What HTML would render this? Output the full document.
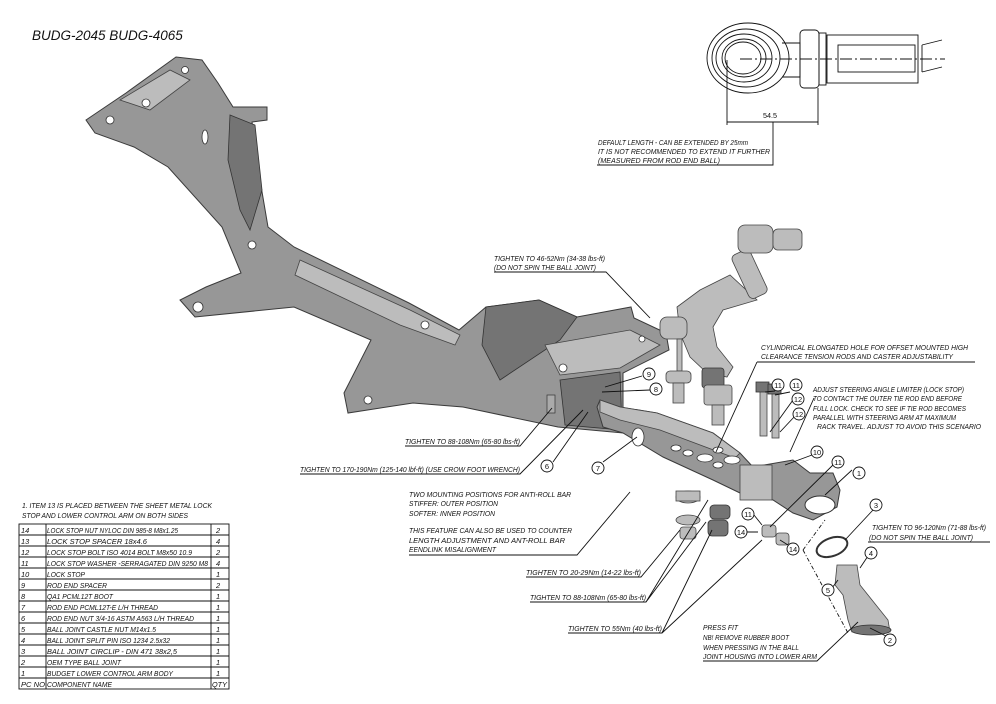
<!DOCTYPE html>
<html><head><meta charset="utf-8"><style>
html,body{margin:0;padding:0;background:#fff;}
svg{display:block;}
text{font-family:"Liberation Sans",sans-serif;font-style:italic;fill:#111;}
.t{font-size:7.4px;}
.b{font-size:7.2px;font-style:normal;}
.ln{stroke:#111;stroke-width:0.9;fill:none;}
.g{fill:#979797;stroke:#3a3a3a;stroke-width:1;}
.gl{fill:#bcbcbc;stroke:#444;stroke-width:0.8;}
.gd{fill:#747474;stroke:#333;stroke-width:0.8;}
.c{fill:#fff;stroke:#111;stroke-width:0.9;}
.n{font-size:7.5px;font-style:normal;text-anchor:middle;}
</style></head><body>
<svg width="996" height="704" viewBox="0 0 996 704" xmlns="http://www.w3.org/2000/svg">
<rect width="996" height="704" fill="#fff"/>
<text x="32" y="40" style="font-size:13.5px">BUDG-2045 BUDG-4065</text>

<!-- rod end drawing -->
<g class="ln">
<ellipse cx="748" cy="58" rx="41" ry="35"/>
<ellipse cx="746" cy="58" rx="34" ry="29"/>
<ellipse cx="744" cy="58" rx="28" ry="24"/>
<ellipse cx="744" cy="58" rx="22" ry="19"/>
<ellipse cx="743" cy="58" rx="18" ry="16"/>
<path d="M782,43 L800,43 L800,77 L782,77"/>
<rect x="800" y="30" width="19" height="58" rx="4"/>
<rect x="819" y="33" width="7" height="52"/>
<rect x="827" y="35" width="91" height="48"/>
<rect x="838" y="45" width="77" height="27"/>
<path d="M922,45 L942,40 M922,72 L942,67 M922,45 L922,72"/>
<path d="M740,59 L945,59" stroke-dasharray="12,3,2,3"/>
<path d="M727,60 L727,125 M818,88 L818,125 M727,122 L818,122"/>
<path d="M773,122 L773,165 L597,165"/>
</g>
<text x="763" y="118" class="b">54.5</text>
<text x="598" y="145" class="t" textLength="150" lengthAdjust="spacingAndGlyphs">DEFAULT LENGTH - CAN BE EXTENDED BY 25mm</text>
<text x="598" y="154" class="t" textLength="172" lengthAdjust="spacingAndGlyphs">IT IS NOT RECOMMENDED TO EXTEND IT FURTHER</text>
<text x="598" y="163" class="t" textLength="122" lengthAdjust="spacingAndGlyphs">(MEASURED FROM ROD END BALL)</text>

<!-- subframe -->
<polygon class="g" points="86,120 126,93 176,57 202,60 218,83 233,107 267,107 267,120 252,122 260,180 268,227 294,247 409,303 459,330 486,307 539,300 577,317 631,307 634,318 666,333 669,350 623,373 623,433 558,427 463,407 413,403 348,413 344,393 371,340 294,307 195,317 180,300 206,287 241,273 222,227 168,167 134,147 95,133"/>
<polygon class="gd" points="230,115 255,125 262,190 250,230 240,210 228,160"/>
<polygon class="gl" points="120,100 170,70 190,80 150,110"/>
<polygon class="gd" points="486,307 539,300 577,317 560,340 500,380 482,345"/>
<polygon class="gl" points="300,260 410,310 460,335 455,345 400,325 295,275"/>
<polygon class="gl" points="545,345 630,330 660,345 620,368 560,375"/>
<polygon class="gd" points="560,380 620,372 622,430 565,425"/>
<g fill="#fff" stroke="#333" stroke-width="0.8">
<circle cx="110" cy="120" r="4"/><circle cx="146" cy="103" r="4"/><circle cx="185" cy="70" r="3.5"/>
<circle cx="198" cy="307" r="5"/><circle cx="252" cy="245" r="4"/><circle cx="368" cy="400" r="4"/>
<circle cx="425" cy="325" r="4"/><circle cx="563" cy="368" r="4"/><circle cx="642" cy="339" r="3"/>
<ellipse cx="205" cy="137" rx="3" ry="7"/>
</g>
<rect x="547" y="395" width="8" height="18" fill="#aaa" stroke="#333" stroke-width="0.7"/>

<!-- steering arm & tie rod -->
<polygon class="gl" points="677,307 700,290 730,275 757,300 723,310 713,327 717,347 733,367 727,377 707,373 690,357 680,333"/>
<g transform="rotate(-25 750 275)"><rect x="740" y="250" width="20" height="48" rx="5" class="gl"/></g>
<rect x="738" y="225" width="35" height="28" rx="7" class="gl"/>
<rect x="773" y="229" width="29" height="21" rx="5" class="gl"/>
<rect x="660" y="317" width="27" height="22" rx="7" class="gl"/>
<rect x="677" y="339" width="5" height="32" class="gl"/>
<rect x="666" y="371" width="25" height="12" rx="4" class="gl"/>
<rect x="673" y="383" width="11" height="20" class="gl"/>
<rect x="702" y="368" width="22" height="20" rx="3" class="gd"/>
<rect x="704" y="385" width="28" height="20" rx="3" class="gl"/>
<rect x="712" y="405" width="12" height="20" class="gl"/>

<!-- lower arm -->
<polygon class="g" points="600,400 620,407 657,413 713,433 740,453 753,467 793,460 810,473 833,473 840,490 837,507 813,520 793,513 773,500 740,493 713,480 663,457 623,433 603,427 597,407"/>
<polygon class="gl" points="600,400 620,407 657,413 713,433 740,453 735,458 660,430 620,420 600,412"/>
<ellipse cx="820" cy="505" rx="15" ry="9" fill="#fff" stroke="#333"/>
<rect x="740" y="465" width="32" height="35" class="gl"/>
<g fill="#fff" stroke="#333" stroke-width="0.8">
<ellipse cx="638" cy="437" rx="6" ry="9"/>
<ellipse cx="676" cy="448" rx="5" ry="3"/><ellipse cx="688" cy="453" rx="5" ry="3"/>
<ellipse cx="718" cy="450" rx="5" ry="3"/><ellipse cx="718" cy="465" rx="5" ry="3"/>
<ellipse cx="705" cy="458" rx="8" ry="4"/><ellipse cx="732" cy="460" rx="8" ry="4"/>
</g>
<rect x="760" y="388" width="7" height="48" class="gl"/><rect x="772" y="390" width="7" height="48" class="gl"/>
<rect x="756" y="382" width="13" height="10" class="gd"/><rect x="768" y="384" width="13" height="10" class="gd"/>
<g>
<ellipse cx="688" cy="497" rx="12" ry="6" class="gl"/><rect x="676" y="491" width="24" height="10" class="gl"/>
<ellipse cx="688" cy="520" rx="12" ry="5" class="gl"/>
<rect x="680" y="527" width="16" height="12" rx="3" class="gl"/>
<rect x="710" y="505" width="20" height="14" rx="4" class="gd"/>
<rect x="708" y="520" width="20" height="16" rx="4" class="gd"/>
<rect x="762" y="525" width="14" height="12" rx="3" class="gl"/>
<rect x="776" y="533" width="13" height="12" rx="3" class="gl"/>
</g>
<!-- ball joint -->
<ellipse cx="832" cy="547" rx="16" ry="9" fill="none" stroke="#333" stroke-width="2" transform="rotate(-20 832 547)"/>
<path d="M837,565 L857,565 L860,585 L868,595 L888,620 L890,632 L852,632 L848,620 L843,595 L835,585Z" class="gl"/>
<ellipse cx="871" cy="630" rx="20" ry="5" class="gd"/>
<path class="ln" d="M803,550 L825,520 M803,550 L848,633" stroke-dasharray="4,2,1,2"/>

<!-- leaders -->
<g class="ln">
<path d="M494,272 L606,272 L650,318"/>
<path d="M757,362 L975,362 M757,362 L716,452"/>
<path d="M405,446 L520,446 L552,408"/>
<path d="M300,474 L520,474 L583,410"/>
<path d="M409,555 L577,555 L630,492"/>
<path d="M526,577 L641,577 L680,530"/>
<path d="M530,602 L646,602 L706,522 M646,602 L708,500"/>
<path d="M568,633 L662,633 L712,530 M662,633 L762,540"/>
<path d="M703,661 L817,661 L858,622"/>
<path d="M868,542 L990,542"/>
<path d="M642,376 L605,387 M650,390 L602,392"/>
<path d="M553,462 L588,412 M603,462 L637,437"/>
<path d="M852,470 L825,495 M836,462 L770,527 M812,455 L785,465 M775,391 L765,392 M790,392 L775,395 M793,400 L770,432 M795,416 L780,432"/>
<path d="M873,510 L845,540 M868,556 L860,568 M832,588 L838,580 M886,636 L870,628 M735,532 L758,532 M788,545 L780,540 M754,515 L762,525"/>
<path d="M814,398 L790,452"/>
</g>
<!-- balloons -->
<g>
<circle class="c" cx="649" cy="374" r="6"/><text class="n" x="649" y="377">9</text>
<circle class="c" cx="656" cy="389" r="6"/><text class="n" x="656" y="392">8</text>
<circle class="c" cx="547" cy="466" r="6"/><text class="n" x="547" y="469">6</text>
<circle class="c" cx="598" cy="468" r="6"/><text class="n" x="598" y="471">7</text>
<circle class="c" cx="778" cy="385" r="6"/><text class="n" x="778" y="388">11</text>
<circle class="c" cx="796" cy="385" r="6"/><text class="n" x="796" y="388">11</text>
<circle class="c" cx="798" cy="399" r="6"/><text class="n" x="798" y="402">12</text>
<circle class="c" cx="799" cy="414" r="6"/><text class="n" x="799" y="417">12</text>
<circle class="c" cx="817" cy="452" r="6"/><text class="n" x="817" y="455">10</text>
<circle class="c" cx="838" cy="462" r="6"/><text class="n" x="838" y="465">11</text>
<circle class="c" cx="859" cy="473" r="6"/><text class="n" x="859" y="476">1</text>
<circle class="c" cx="876" cy="505" r="6"/><text class="n" x="876" y="508">3</text>
<circle class="c" cx="871" cy="553" r="6"/><text class="n" x="871" y="556">4</text>
<circle class="c" cx="828" cy="590" r="6"/><text class="n" x="828" y="593">5</text>
<circle class="c" cx="890" cy="640" r="6"/><text class="n" x="890" y="643">2</text>
<circle class="c" cx="748" cy="514" r="6"/><text class="n" x="748" y="517">11</text>
<circle class="c" cx="741" cy="532" r="6"/><text class="n" x="741" y="535">14</text>
<circle class="c" cx="793" cy="549" r="6"/><text class="n" x="793" y="552">14</text>
</g>

<!-- callout texts -->
<text x="494" y="261" class="t" textLength="111" lengthAdjust="spacingAndGlyphs">TIGHTEN TO 46-52Nm (34-38 lbs-ft)</text>
<text x="494" y="270" class="t" textLength="102" lengthAdjust="spacingAndGlyphs">(DO NOT SPIN THE BALL JOINT)</text>
<text x="761" y="350" class="t" textLength="207" lengthAdjust="spacingAndGlyphs">CYLINDRICAL ELONGATED HOLE FOR OFFSET MOUNTED HIGH</text>
<text x="761" y="359" class="t" textLength="192" lengthAdjust="spacingAndGlyphs">CLEARANCE TENSION RODS AND CASTER ADJUSTABILITY</text>
<text x="813" y="392" class="t" textLength="151" lengthAdjust="spacingAndGlyphs">ADJUST STEERING ANGLE LIMITER (LOCK STOP)</text>
<text x="813" y="401" class="t" textLength="149" lengthAdjust="spacingAndGlyphs">TO CONTACT THE OUTER TIE ROD END BEFORE</text>
<text x="813" y="411" class="t" textLength="153" lengthAdjust="spacingAndGlyphs">FULL LOCK. CHECK TO SEE IF TIE ROD BECOMES</text>
<text x="813" y="420" class="t" textLength="143" lengthAdjust="spacingAndGlyphs">PARALLEL WITH  STEERING ARM AT MAXIMUM</text>
<text x="817" y="429" class="t" textLength="164" lengthAdjust="spacingAndGlyphs">RACK TRAVEL. ADJUST TO AVOID THIS SCENARIO</text>
<text x="405" y="444" class="t" textLength="115" lengthAdjust="spacingAndGlyphs">TIGHTEN TO 88-108Nm (65-80 lbs-ft)</text>
<text x="300" y="472" class="t" textLength="220" lengthAdjust="spacingAndGlyphs">TIGHTEN TO 170-190Nm (125-140 lbf-ft) (USE CROW FOOT WRENCH)</text>
<text x="409" y="497" class="t" textLength="162" lengthAdjust="spacingAndGlyphs">TWO MOUNTING POSITIONS FOR ANTI-ROLL BAR</text>
<text x="409" y="506" class="t" textLength="89" lengthAdjust="spacingAndGlyphs">STIFFER: OUTER POSITION</text>
<text x="409" y="516" class="t" textLength="86" lengthAdjust="spacingAndGlyphs">SOFTER: INNER POSITION</text>
<text x="409" y="533" class="t" textLength="163" lengthAdjust="spacingAndGlyphs">THIS FEATURE CAN ALSO BE USED TO COUNTER</text>
<text x="409" y="543" class="t" textLength="156" lengthAdjust="spacingAndGlyphs">LENGTH ADJUSTMENT AND ANT-ROLL BAR</text>
<text x="409" y="552" class="t" textLength="87" lengthAdjust="spacingAndGlyphs">EENDLINK MISALIGNMENT</text>
<text x="526" y="575" class="t" textLength="115" lengthAdjust="spacingAndGlyphs">TIGHTEN TO 20-29Nm (14-22 lbs-ft)</text>
<text x="530" y="600" class="t" textLength="116" lengthAdjust="spacingAndGlyphs">TIGHTEN TO 88-108Nm (65-80 lbs-ft)</text>
<text x="568" y="631" class="t" textLength="94" lengthAdjust="spacingAndGlyphs">TIGHTEN TO 55Nm (40 lbs-ft)</text>
<text x="703" y="630" class="t" textLength="35" lengthAdjust="spacingAndGlyphs">PRESS FIT</text>
<text x="703" y="640" class="t" textLength="86" lengthAdjust="spacingAndGlyphs">NB! REMOVE RUBBER BOOT</text>
<text x="703" y="650" class="t" textLength="96" lengthAdjust="spacingAndGlyphs">WHEN PRESSING IN THE BALL</text>
<text x="703" y="659" class="t" textLength="114" lengthAdjust="spacingAndGlyphs">JOINT HOUSING INTO LOWER ARM</text>
<text x="872" y="530" class="t" textLength="114" lengthAdjust="spacingAndGlyphs">TIGHTEN TO 96-120Nm (71-88 lbs-ft)</text>
<text x="869" y="540" class="t" textLength="104" lengthAdjust="spacingAndGlyphs">(DO NOT SPIN THE BALL JOINT)</text>

<!-- table -->
<text x="22" y="508" class="t" textLength="190" lengthAdjust="spacingAndGlyphs">1. ITEM 13 IS PLACED BETWEEN THE SHEET METAL LOCK</text>
<text x="22" y="518" class="t" textLength="166" lengthAdjust="spacingAndGlyphs">STOP AND LOWER CONTROL ARM ON BOTH SIDES</text>
<g class="ln" stroke-width="0.8">
<rect x="19" y="524" width="210" height="165"/>
<path d="M46,524 V689 M211,524 V689"/>
<path d="M19,535 H229 M19,546 H229 M19,557 H229 M19,568 H229 M19,579 H229 M19,590 H229 M19,601 H229 M19,612 H229 M19,623 H229 M19,634 H229 M19,645 H229 M19,656 H229 M19,667 H229 M19,678 H229"/>
</g>
<g class="t">
<text x="21" y="533">14</text><text x="47" y="533" textLength="131" lengthAdjust="spacingAndGlyphs">LOCK STOP NUT NYLOC DIN 985-8 M8x1.25</text><text x="216" y="533">2</text>
<text x="21" y="544">13</text><text x="47" y="544" textLength="100" lengthAdjust="spacingAndGlyphs">LOCK STOP SPACER 18x4.6</text><text x="216" y="544">4</text>
<text x="21" y="555">12</text><text x="47" y="555" textLength="145" lengthAdjust="spacingAndGlyphs">LOCK STOP BOLT ISO 4014 BOLT M8x50 10.9</text><text x="216" y="555">2</text>
<text x="21" y="566">11</text><text x="47" y="566" textLength="161" lengthAdjust="spacingAndGlyphs">LOCK STOP WASHER -SERRAGATED DIN 9250 M8</text><text x="216" y="566">4</text>
<text x="21" y="577">10</text><text x="47" y="577" textLength="38" lengthAdjust="spacingAndGlyphs">LOCK STOP</text><text x="216" y="577">1</text>
<text x="21" y="588">9</text><text x="47" y="588" textLength="60" lengthAdjust="spacingAndGlyphs">ROD END SPACER</text><text x="216" y="588">2</text>
<text x="21" y="599">8</text><text x="47" y="599" textLength="66" lengthAdjust="spacingAndGlyphs">QA1 PCML12T BOOT</text><text x="216" y="599">1</text>
<text x="21" y="610">7</text><text x="47" y="610" textLength="111" lengthAdjust="spacingAndGlyphs">ROD END PCML12T-E L/H THREAD</text><text x="216" y="610">1</text>
<text x="21" y="621">6</text><text x="47" y="621" textLength="147" lengthAdjust="spacingAndGlyphs">ROD END NUT 3/4-16 ASTM A563 L/H THREAD</text><text x="216" y="621">1</text>
<text x="21" y="632">5</text><text x="47" y="632" textLength="109" lengthAdjust="spacingAndGlyphs">BALL JOINT CASTLE NUT M14x1.5</text><text x="216" y="632">1</text>
<text x="21" y="643">4</text><text x="47" y="643" textLength="123" lengthAdjust="spacingAndGlyphs">BALL JOINT SPLIT PIN ISO 1234 2.5x32</text><text x="216" y="643">1</text>
<text x="21" y="654">3</text><text x="47" y="654" textLength="130" lengthAdjust="spacingAndGlyphs">BALL JOINT CIRCLIP - DIN 471 38x2,5</text><text x="216" y="654">1</text>
<text x="21" y="665">2</text><text x="47" y="665" textLength="74" lengthAdjust="spacingAndGlyphs">OEM TYPE BALL JOINT</text><text x="216" y="665">1</text>
<text x="21" y="676">1</text><text x="47" y="676" textLength="126" lengthAdjust="spacingAndGlyphs">BUDGET LOWER CONTROL ARM BODY</text><text x="216" y="676">1</text>
<text x="21" y="687" textLength="24" lengthAdjust="spacingAndGlyphs">PC NO</text><text x="47" y="687" textLength="65" lengthAdjust="spacingAndGlyphs">COMPONENT NAME</text><text x="212" y="687" textLength="15" lengthAdjust="spacingAndGlyphs">QTY</text>
</g>
</svg>
</body></html>
